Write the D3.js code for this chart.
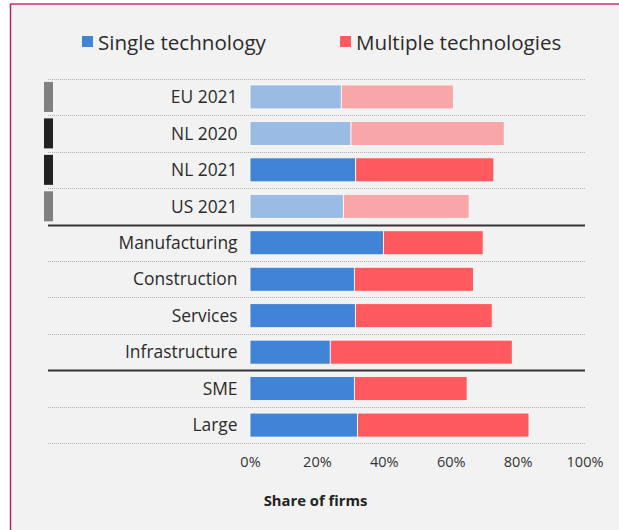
<!DOCTYPE html>
<html>
<head>
<meta charset="utf-8">
<script src="https://cdn.jsdelivr.net/npm/d3@7"></script>
<style>
  body { margin: 0; background: #fff; }
  svg { display: block; font-family: "Open Sans", "Noto Sans", sans-serif; }
</style>
</head>
<body>
<div id="chart"></div>
<script>
// DATA
var categories = ["EU 2021", "NL 2020", "NL 2021", "US 2021", "Manufacturing", "Construction", "Services", "Infrastructure", "SME", "Large"]
var single = [27.3, 30.2, 31.6, 27.9, 39.9, 31.2, 31.5, 24.0, 31.2, 32.1]
var multiple = [33.5, 45.8, 41.3, 37.6, 29.8, 35.6, 40.9, 54.4, 33.7, 51.3]
var faded = ["EU 2021", "NL 2020", "US 2021"]
var markers = {"EU 2021": "#808080", "NL 2020": "#222222", "NL 2021": "#222222", "US 2021": "#808080"}
var groupStarts = ["Manufacturing", "SME"]
var xTicks = [0, 20, 40, 60, 80, 100]
var seriesNames = ["Single technology", "Multiple technologies"]
var colors = ["#4183d4", "#ff5a5f"]

var svgWidth = 619
var svgHeight = 530

var svg = d3.select("#chart").append("svg")
    .attr("width", svgWidth)
    .attr("height", svgHeight)

// panel background + border
svg.append("rect")
    .attr("x", 11).attr("y", 4)
    .attr("width", svgWidth).attr("height", svgHeight)
    .attr("fill", "#f2f2f2")
svg.append("line")
    .attr("x1", 10.5).attr("x2", 10.5).attr("y1", 3.5).attr("y2", svgHeight)
    .attr("stroke", "#b0246a").attr("stroke-width", 1.5)
svg.append("line")
    .attr("x1", 10.5).attr("x2", svgWidth).attr("y1", 4).attr("y2", 4)
    .attr("stroke", "#c0307a").attr("stroke-width", 1.5)

var xScale = d3.scaleLinear().domain([0, 100]).range([250, 584.5])
var yScale = d3.scaleBand().domain(categories).range([78.7, 443.3]).padding(0)
var bw = yScale.bandwidth()
var barH = 24

var data = categories.map((c, i) => ({cat: c, single: single[i], multiple: multiple[i]}))

// row dividers
var lineLeft = 48, lineRight = 585
data.forEach(d => {
    var solid = groupStarts.indexOf(d.cat) >= 0
    svg.append("line")
        .attr("x1", lineLeft).attr("x2", lineRight)
        .attr("y1", Math.round(yScale(d.cat)) + 0.5).attr("y2", Math.round(yScale(d.cat)) + 0.5)
        .attr("stroke", solid ? "#333" : "#b0b0b0")
        .attr("stroke-width", solid ? 2 : 1)
        .attr("stroke-dasharray", solid ? null : "1,1")
})
svg.append("line")
    .attr("x1", lineLeft).attr("x2", lineRight)
    .attr("y1", Math.round(yScale.range()[1]) + 0.5).attr("y2", Math.round(yScale.range()[1]) + 0.5)
    .attr("stroke", "#b0b0b0").attr("stroke-dasharray", "1,1")

// markers on the left
svg.selectAll("rect.marker")
    .data(data.filter(d => markers[d.cat]))
    .enter().append("rect")
    .attr("class", "marker")
    .attr("x", 44).attr("width", 9)
    .attr("y", d => yScale(d.cat) + bw / 2 - 15)
    .attr("height", 30)
    .attr("fill", d => markers[d.cat])

// bars
var barGroup = svg.append("g")
barGroup.selectAll("rect.single")
    .data(data).enter().append("rect")
    .attr("x", xScale(0))
    .attr("y", d => yScale(d.cat) + (bw - barH) / 2)
    .attr("width", d => xScale(d.single) - xScale(0))
    .attr("height", barH)
    .attr("fill", colors[0])
    .attr("fill-opacity", d => faded.indexOf(d.cat) >= 0 ? 0.5 : 1)
    .attr("stroke", "#fff").attr("stroke-width", 0.8)

barGroup.selectAll("rect.multi")
    .data(data).enter().append("rect")
    .attr("x", d => xScale(d.single))
    .attr("y", d => yScale(d.cat) + (bw - barH) / 2)
    .attr("width", d => xScale(d.single + d.multiple) - xScale(d.single))
    .attr("height", barH)
    .attr("fill", colors[1])
    .attr("fill-opacity", d => faded.indexOf(d.cat) >= 0 ? 0.5 : 1)
    .attr("stroke", "#fff").attr("stroke-width", 0.8)

// category labels
svg.selectAll("text.cat")
    .data(data).enter().append("text")
    .attr("x", 237.5)
    .attr("y", d => yScale(d.cat) + bw / 2)
    .attr("dy", "0.36em")
    .attr("text-anchor", "end")
    .attr("fill", "#2b2b2b")
    .style("font-size", "17.4px")
    .text(d => d.cat)

// x axis
var xAxis = d3.axisBottom(xScale)
    .tickValues(xTicks)
    .tickFormat(d => d + "%")
    .tickSize(0)
    .tickPadding(0)
var axisG = svg.append("g")
    .attr("transform", "translate(0,457)")
    .call(xAxis)
axisG.select(".domain").remove()
axisG.selectAll("text")
    .attr("fill", "#333")
    .style("font-size", "14.5px")
    .style("font-family", "'Open Sans', sans-serif")

svg.append("text")
    .attr("x", 315.5).attr("y", 506)
    .attr("text-anchor", "middle")
    .attr("fill", "#222")
    .style("font-size", "14.8px")
    .style("font-weight", "bold")
    .text("Share of firms")

// legend
var legendX = [82, 340]
seriesNames.forEach((name, i) => {
    svg.append("rect")
        .attr("x", legendX[i]).attr("y", 36)
        .attr("width", 11).attr("height", 11)
        .attr("fill", colors[i])
    svg.append("text")
        .attr("x", legendX[i] + 16).attr("y", 49.5)
        .attr("fill", "#2b2b2b")
        .style("font-size", "20.6px")
        .text(name)
})
</script>
</body>
</html>
